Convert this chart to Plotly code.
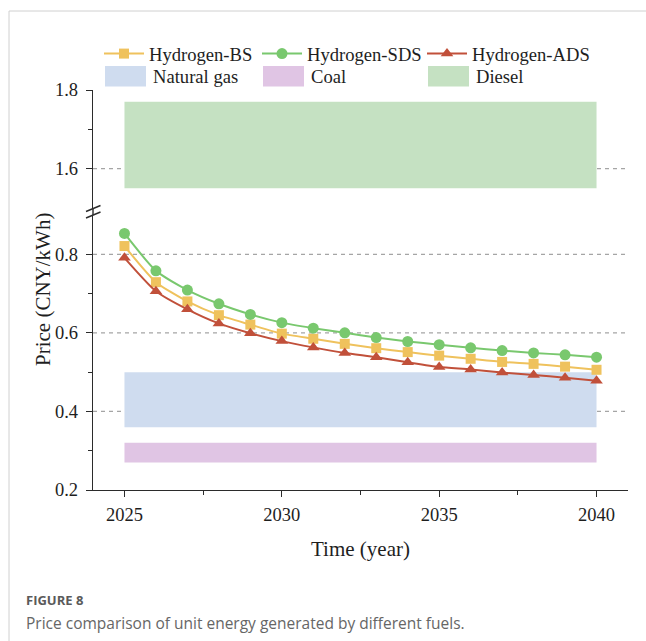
import plotly.graph_objects as go

# ---- data -------------------------------------------------------------
years = list(range(2025, 2041))

hydrogen_bs = [0.821, 0.729, 0.680, 0.645, 0.621, 0.598, 0.585, 0.572,
               0.561, 0.551, 0.542, 0.534, 0.526, 0.521, 0.514, 0.506]
hydrogen_sds = [0.853, 0.758, 0.709, 0.674, 0.647, 0.626, 0.612, 0.600,
                0.588, 0.578, 0.570, 0.562, 0.555, 0.549, 0.544, 0.538]
hydrogen_ads = [0.791, 0.706, 0.660, 0.624, 0.599, 0.579, 0.563, 0.549,
                0.538, 0.525, 0.513, 0.507, 0.499, 0.493, 0.486, 0.478]

# price ranges of conventional fuels (low, high), CNY/kWh
band_names = ["Natural gas", "Coal", "Diesel"]
band_ranges = [(0.36, 0.50), (0.27, 0.32), (1.55, 1.77)]
band_colors = ["#cfdcef", "#e0c5e4", "#c5e1c2"]
band_years = (2025, 2040)

lower_ticks = [0.2, 0.4, 0.6, 0.8]
upper_ticks = [1.6, 1.8]
grid_values = [0.4, 0.6, 0.8, 1.6]

# ---- geometry helpers ---------------------------------------------------
W, H = 646, 641
ML, MR, MT, MB = 93, 18, 90, 151
PW, PH = W - ML - MR, H - MT - MB


def px_x(p):
    return (p - ML) / PW


def px_y(p):
    return (H - MB - p) / PH


SERIF = "Liberation Serif"
AXIS_COLOR = "#2b2b2b"
TEXT_COLOR = "#1e1e1e"
LEGEND_FONT = dict(family=SERIF, size=18.6, color=TEXT_COLOR)
COLUMN_X = [104, 262, 427]      # left edge of each legend column (px)

fig = go.Figure()

# fuel price bands (the break axis puts diesel on the upper panel)
for name, (lo, hi), color in zip(band_names, band_ranges, band_colors):
    x0, x1 = band_years
    fig.add_trace(go.Scatter(
        x=[x0, x1, x1, x0, x0], y=[lo, lo, hi, hi, lo],
        mode="lines", fill="toself", fillcolor=color,
        line=dict(width=0, color=color), name=name,
        yaxis="y2" if lo > 1 else "y", showlegend=False, hoverinfo="skip"))


def series(name, values, color, symbol, size, legend):
    fig.add_trace(go.Scatter(
        x=years, y=values, mode="lines+markers", name=name,
        line=dict(color=color, width=2, shape="spline", smoothing=0.6),
        marker=dict(symbol=symbol, size=size, color=color),
        legend=legend))


series("Hydrogen-BS", hydrogen_bs, "#efc25d", "square", 10, "legend")
series("Hydrogen-SDS", hydrogen_sds, "#79c86e", "circle", 11, "legend2")
series("Hydrogen-ADS", hydrogen_ads, "#c1503a", "triangle-up", 11, "legend3")

# dashed reference lines
shapes = []
for v in grid_values:
    shapes.append(dict(type="line", xref="paper", x0=0, x1=1,
                       yref="y2" if v > 1 else "y", y0=v, y1=v,
                       line=dict(color="#a5a5a5", width=1.2, dash="4px,4px"),
                       layer="below"))

# axis-break connector and the "//" marks
lower_top = 0.6875
upper_bottom = 0.705
shapes.append(dict(type="line", xref="paper", yref="paper", x0=0, x1=0,
                   y0=lower_top, y1=upper_bottom,
                   line=dict(color=AXIS_COLOR, width=1.4)))
for dy in (0, 6.5):
    shapes.append(dict(type="line", xref="paper", yref="paper",
                       x0=px_x(86), x1=px_x(100.5),
                       y0=px_y(211.5 + dy), y1=px_y(205.5 + dy),
                       line=dict(color=AXIS_COLOR, width=1.4)))

# thin frame around the figure panel
shapes.append(dict(type="rect", xref="paper", yref="paper",
                   x0=px_x(9), x1=px_x(700), y0=px_y(700), y1=px_y(11),
                   line=dict(color="#d0d0d0", width=1), layer="below"))

annotations = []

# second legend row: swatches for the fuel bands
for cx, name, color in zip(COLUMN_X, band_names, band_colors):
    shapes.append(dict(type="rect", xref="paper", yref="paper",
                       x0=px_x(cx + 1), x1=px_x(cx + 42),
                       y0=px_y(86.5), y1=px_y(66),
                       fillcolor=color, line=dict(width=0)))
    annotations.append(dict(text=name, x=px_x(cx + 47), y=px_y(76.5),
                            xref="paper", yref="paper", xanchor="left",
                            yanchor="middle", showarrow=False,
                            font=LEGEND_FONT))

axis_common = dict(showline=True, linecolor=AXIS_COLOR, linewidth=1.4,
                   ticks="outside", ticklen=6, tickwidth=1.4,
                   tickcolor=AXIS_COLOR, showgrid=False, zeroline=False,
                   tickfont=dict(family=SERIF, size=18.5, color=TEXT_COLOR))
minor_common = dict(ticks="outside", ticklen=4, tickwidth=1.4,
                    tickcolor=AXIS_COLOR)

fig.update_layout(
    width=W, height=H,
    margin=dict(l=ML, r=MR, t=MT, b=MB),
    paper_bgcolor="white", plot_bgcolor="white",
    xaxis=dict(range=[2024, 2041], tickmode="linear", tick0=2025, dtick=5,
               minor=dict(dtick=2.5, tick0=2025, **minor_common),
               ticklabelstandoff=2, **axis_common),
    yaxis=dict(domain=[0, lower_top], range=[0.2, 0.9],
               tickmode="array", tickvals=lower_ticks,
               ticktext=[f"{v:.1f}" for v in lower_ticks],
               minor=dict(tickmode="array", tickvals=[0.3, 0.5, 0.7],
                          **minor_common),
               ticklabelstandoff=4, **axis_common),
    yaxis2=dict(domain=[upper_bottom, 1], range=[1.5, 1.8], anchor="x",
                tickmode="array", tickvals=upper_ticks,
                ticktext=[f"{v:.1f}" for v in upper_ticks],
                minor=dict(tickmode="array", tickvals=[1.7], **minor_common),
                ticklabelstandoff=4, **axis_common),
    shapes=shapes,
    showlegend=True,
)

legend_style = dict(orientation="v", xanchor="left", yanchor="top",
                    y=px_y(35), bgcolor="rgba(0,0,0,0)", borderwidth=0,
                    tracegroupgap=0, itemwidth=40, font=LEGEND_FONT)
fig.update_layout(
    legend=dict(x=px_x(COLUMN_X[0] - 5), **legend_style),
    legend2=dict(x=px_x(COLUMN_X[1] - 5), **legend_style),
    legend3=dict(x=px_x(COLUMN_X[2] - 5), **legend_style),
)

annotations += [
    dict(text="Price (CNY/kWh)", x=px_x(43), y=px_y(290), xref="paper",
         yref="paper", xanchor="center", yanchor="middle", textangle=-90,
         showarrow=False, font=dict(family=SERIF, size=21, color=TEXT_COLOR)),
    dict(text="Time (year)", x=0.5, y=px_y(549), xref="paper", yref="paper",
         xanchor="center", yanchor="middle", showarrow=False,
         font=dict(family=SERIF, size=21, color=TEXT_COLOR)),
    dict(text="<b>FIGURE 8</b>", x=px_x(24), y=px_y(600), xref="paper",
         yref="paper", xanchor="left", yanchor="middle", showarrow=False,
         font=dict(family="Open Sans", size=13, color="#5a5a5a")),
    dict(text="Price comparison of unit energy generated by different fuels.",
         x=px_x(24), y=px_y(623), xref="paper", yref="paper",
         xanchor="left", yanchor="middle", showarrow=False,
         font=dict(family="Open Sans", size=15.5, color="#666")),
]
fig.update_layout(annotations=annotations)

fig.write_html("out.html")
